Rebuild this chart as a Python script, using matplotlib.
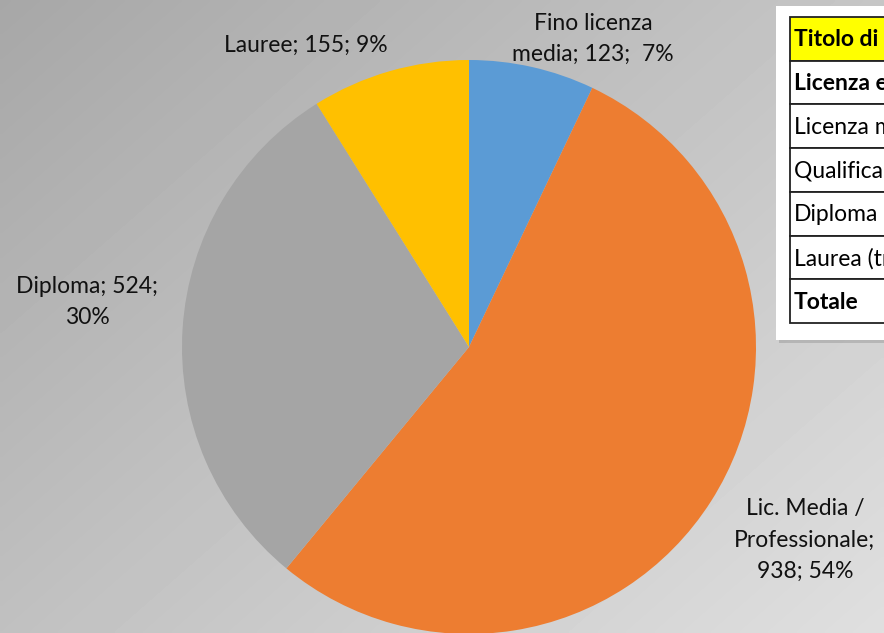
import matplotlib
matplotlib.use("Agg")
import matplotlib.pyplot as plt
import numpy as np
from matplotlib.patches import Rectangle

categories = ["Fino licenza\nmedia", "Lic. Media /\nProfessionale", "Diploma", "Lauree"]
values = [123, 938, 524, 155]
colors = ["#5B9BD5", "#ED7D31", "#A5A5A5", "#FFC000"]
table_rows = ["Titolo di studio", "Licenza elementare", "Licenza media", "Qualifica professionale",
              "Diploma", "Laurea (triennale)", "Totale"]
table_bold = [True, True, False, False, False, False, True]

W, H = 884, 633
fig = plt.figure(figsize=(W / 100, H / 100), dpi=100)
plt.rcParams['font.family'] = ['Lato', 'DejaVu Sans']

# background gradient
bg = fig.add_axes([0, 0, 1, 1])
yy, xx = np.mgrid[0:1:200j, 0:1:200j]
g = 0.655 + 0.22 * (0.55 * xx + 0.45 * yy)
bg.imshow(g, cmap="gray", vmin=0, vmax=1, extent=[0, 1, 1, 0], aspect="auto", interpolation="bilinear")
bg.set_xlim(0, 1); bg.set_ylim(1, 0)
bg.axis("off")

# pie
cx, cy, r = 469, 347, 287
ax = fig.add_axes([(cx - r) / W, (H - cy - r) / H, 2 * r / W, 2 * r / H])
ax.pie(values, colors=colors, startangle=90, counterclock=False, radius=1,
       wedgeprops=dict(linewidth=0))
ax.set_xlim(-1, 1); ax.set_ylim(-1, 1)
ax.set_aspect("equal")
ax.axis("off")

total = sum(values)
pct = [round(v / total * 100) for v in values]
lab_texts = [
    f"{categories[0]}; {values[0]};  {pct[0]}%",
    f"{categories[1].split(chr(10))[0]}\n{categories[1].split(chr(10))[1]};\n{values[1]}; {pct[1]}%",
    f"{categories[2]}; {values[2]};\n{pct[2]}%",
    f"{categories[3]}; {values[3]}; {pct[3]}%",
]
lab_pos = [(593, 39), (805, 540), (87, 302), (306, 45)]

ov = fig.add_axes([0, 0, 1, 1])
ov.set_xlim(0, W); ov.set_ylim(H, 0)
ov.axis("off")
for t, (x, y) in zip(lab_texts, lab_pos):
    ov.text(x, y, t, ha="center", va="center", fontsize=16.5, color="#111111",
            linespacing=1.6)

# table panel (partially visible, cut by the right edge as in the source)
ov.add_patch(Rectangle((779, 9), 200, 334, facecolor="#9a9a9a", edgecolor="none", alpha=0.5))
ov.add_patch(Rectangle((776, 6), 200, 334, facecolor="white", edgecolor="none"))
top, bottom, left = 17, 323, 790
rh = (bottom - top) / len(table_rows)
for i, (txt, b) in enumerate(zip(table_rows, table_bold)):
    y0 = top + i * rh
    ov.add_patch(Rectangle((left, y0), 300, rh, facecolor="#FFFF00" if i == 0 else "white",
                           edgecolor="#222222", linewidth=1.3))
    ov.text(left + 4, y0 + rh / 2 + 1, txt, ha="left", va="center", fontsize=16.5,
            fontweight="bold" if b else "normal", color="black")

fig.savefig("out.png", dpi=100)
